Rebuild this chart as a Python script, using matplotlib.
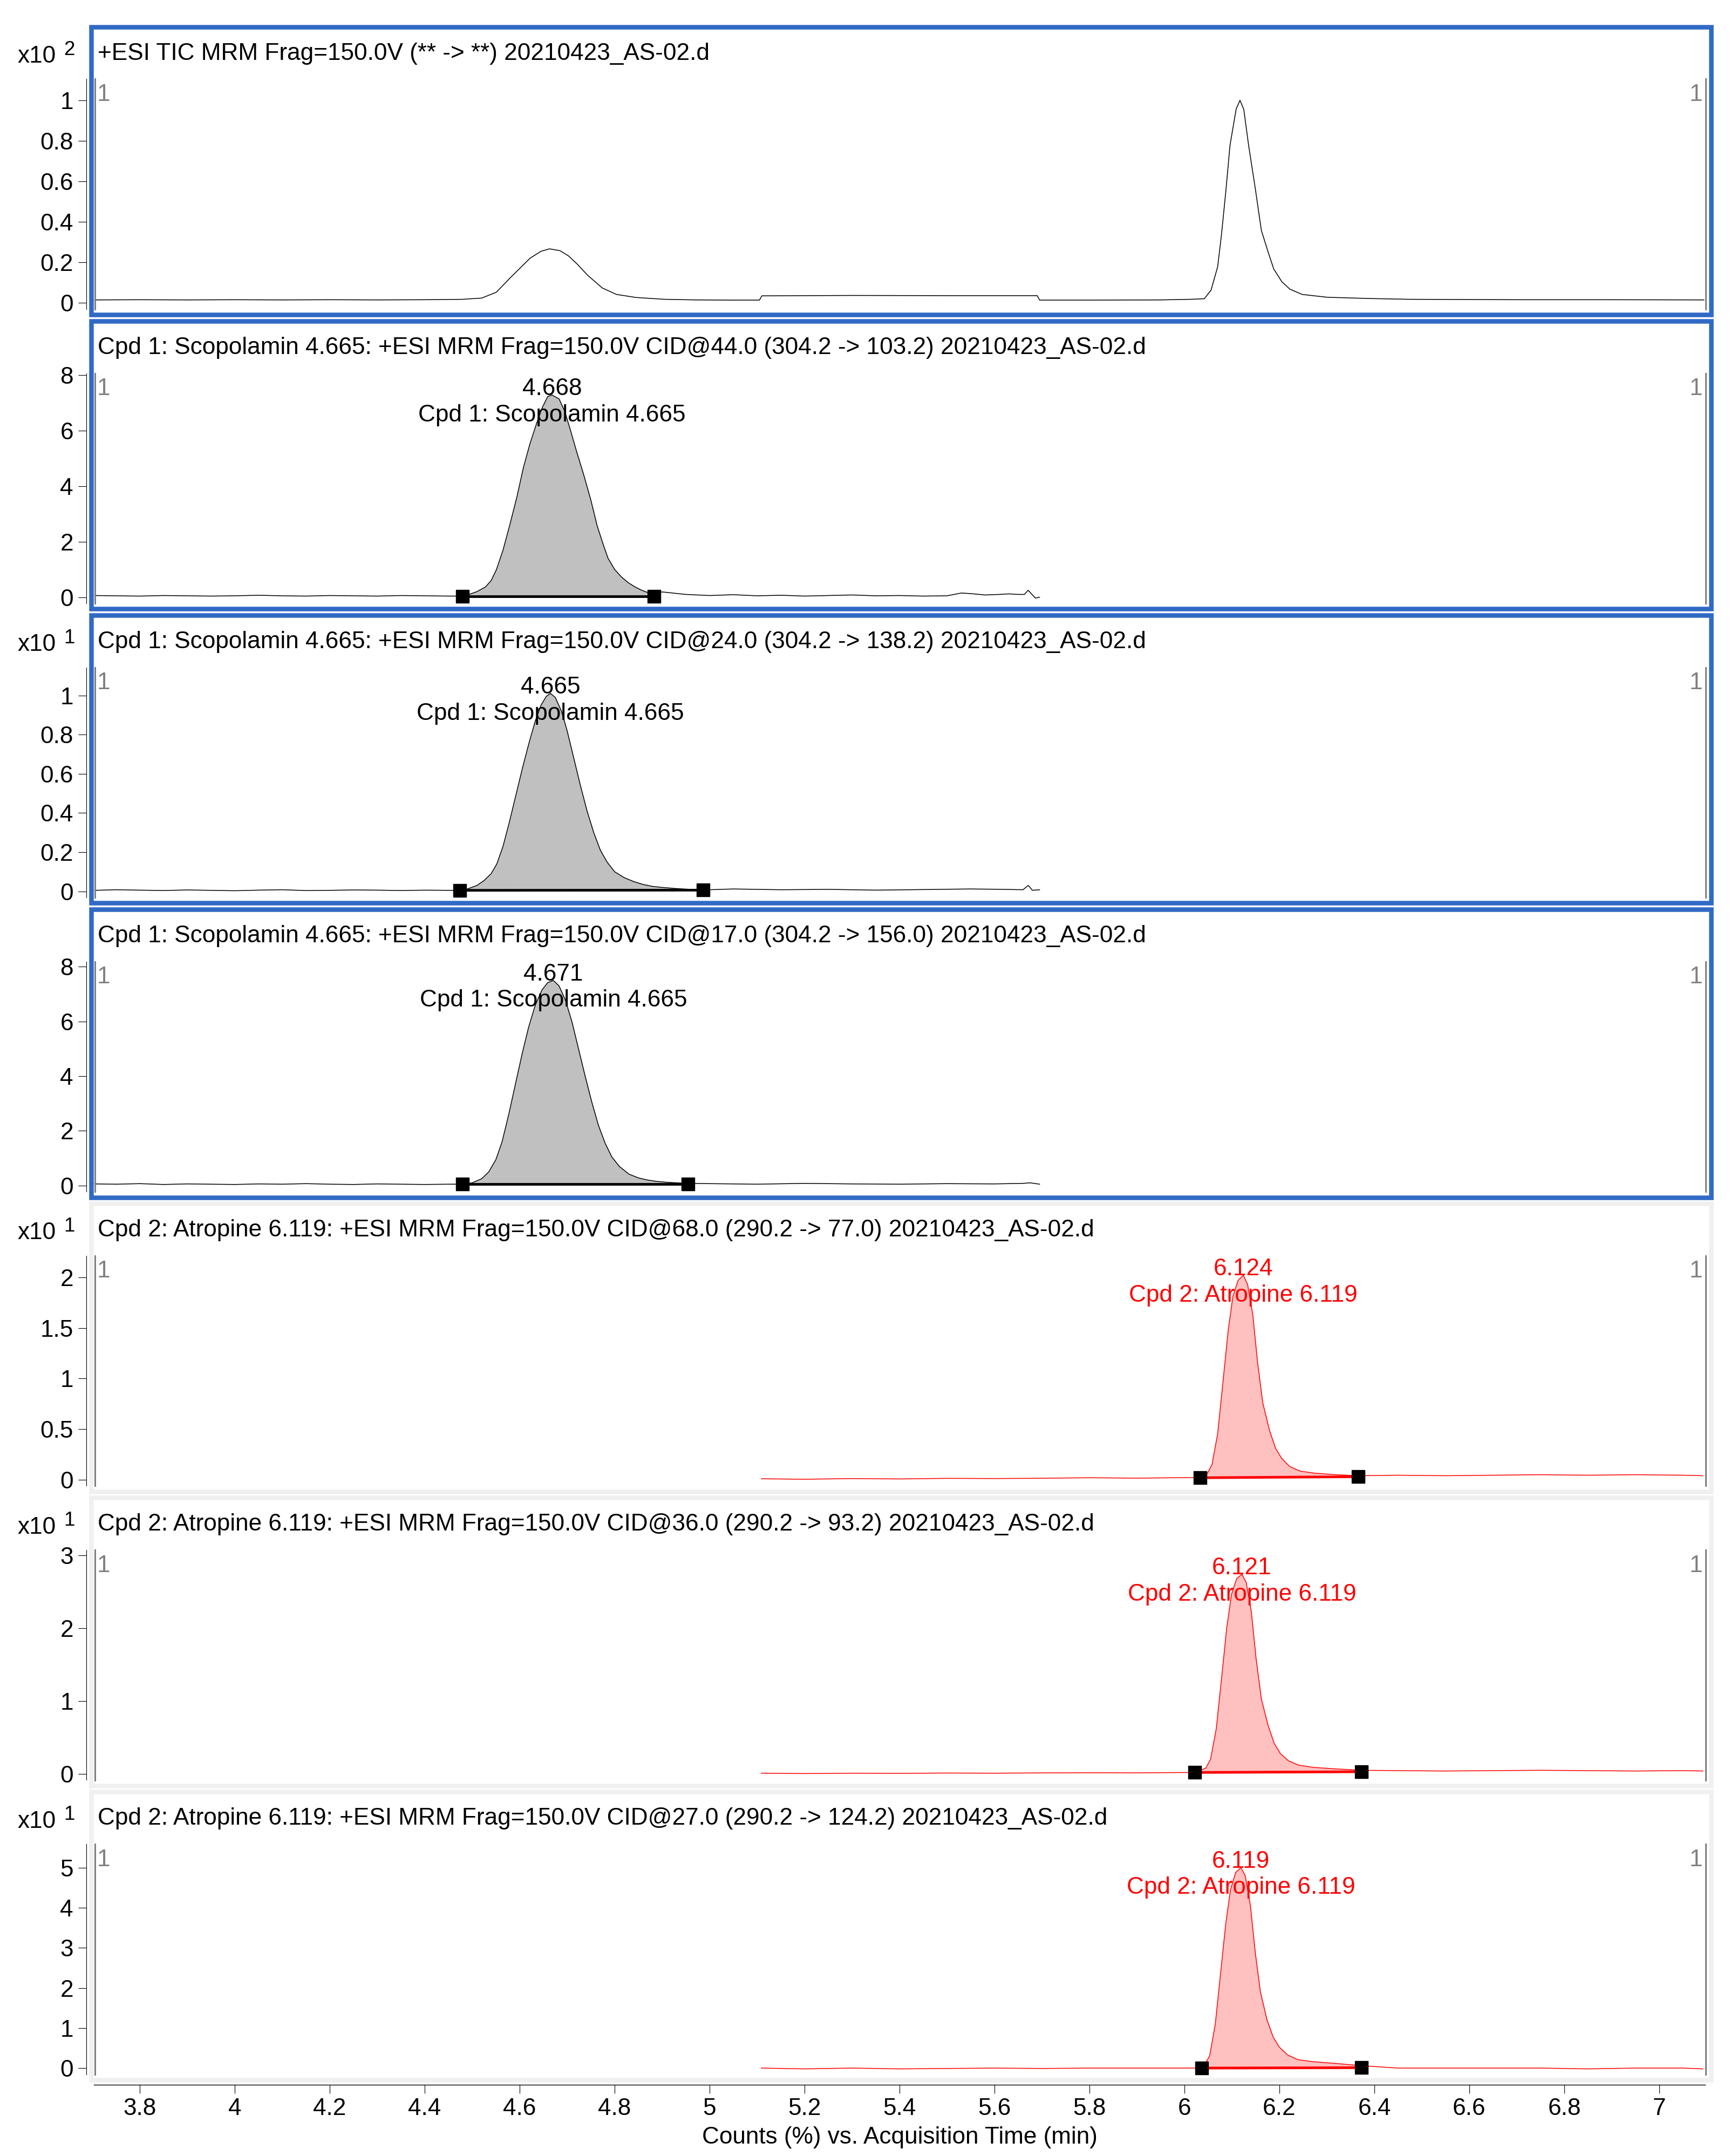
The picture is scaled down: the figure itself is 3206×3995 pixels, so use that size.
import numpy as np
import matplotlib.pyplot as plt
from matplotlib.patches import Rectangle
from matplotlib.lines import Line2D

plt.rcParams['font.family'] = ['Liberation Sans', 'DejaVu Sans']

# ---- data (time in min, counts in panel units) ----
tic_t = [3.705, 3.80, 3.90, 4.00, 4.10, 4.20, 4.30, 4.40, 4.45, 4.48, 4.52, 4.551, 4.581, 4.60,
         4.622, 4.645, 4.663, 4.685, 4.703, 4.722, 4.743, 4.774, 4.804, 4.845, 4.905, 4.97, 5.05,
         5.105, 5.11, 5.30, 5.50, 5.69, 5.695, 5.80, 5.95, 6.013, 6.042, 6.056, 6.070, 6.078,
         6.087, 6.096, 6.109, 6.117, 6.125, 6.135, 6.149, 6.162, 6.176, 6.188, 6.205, 6.222,
         6.248, 6.301, 6.388, 6.475, 6.70, 6.90, 7.094]
tic_v = [0.015, 0.016, 0.015, 0.016, 0.015, 0.016, 0.015, 0.016, 0.017, 0.018, 0.024, 0.053, 0.126,
         0.17, 0.221, 0.255, 0.267, 0.258, 0.232, 0.19, 0.137, 0.074, 0.042, 0.027, 0.018, 0.015,
         0.014, 0.014, 0.035, 0.037, 0.036, 0.036, 0.014, 0.014, 0.015, 0.018, 0.021, 0.063, 0.179,
         0.337, 0.547, 0.779, 0.958, 1.0, 0.955, 0.78, 0.568, 0.358, 0.253, 0.168, 0.105, 0.068,
         0.042, 0.028, 0.022, 0.018, 0.016, 0.016, 0.015]

s103_t = [3.705, 3.75, 3.80, 3.85, 3.90, 3.95, 4.00, 4.05, 4.10, 4.15, 4.20, 4.25, 4.30, 4.35, 4.40,
          4.45, 4.479, 4.490, 4.510, 4.528, 4.540, 4.551, 4.565, 4.579, 4.594, 4.608, 4.622, 4.636,
          4.648, 4.659, 4.668, 4.683, 4.695, 4.706, 4.720, 4.735, 4.750, 4.763, 4.775, 4.786, 4.800,
          4.815, 4.829, 4.843, 4.857, 4.871, 4.883, 4.90, 4.95, 5.00, 5.05, 5.10, 5.15, 5.20, 5.25,
          5.30, 5.35, 5.40, 5.45, 5.50, 5.53, 5.55, 5.58, 5.61, 5.63, 5.65, 5.663, 5.671, 5.680,
          5.686, 5.695]
s103_v = [0.06, 0.05, 0.04, 0.06, 0.05, 0.04, 0.05, 0.07, 0.05, 0.04, 0.06, 0.05, 0.04, 0.06, 0.05,
          0.04, 0.04, 0.08, 0.2, 0.37, 0.6, 0.99, 1.7, 2.59, 3.6, 4.68, 5.55, 6.28, 6.85, 7.23, 7.29,
          7.15, 6.7, 6.08, 5.25, 4.41, 3.5, 2.59, 1.95, 1.41, 1.0, 0.72, 0.52, 0.37, 0.25, 0.16, 0.1,
          0.19, 0.1, 0.06, 0.09, 0.05, 0.07, 0.04, 0.06, 0.08, 0.05, 0.06, 0.04, 0.05, 0.15, 0.13,
          0.08, 0.1, 0.12, 0.1, 0.1, 0.25, 0.08, -0.03, 0.0]

s138_t = [3.705, 3.75, 3.80, 3.85, 3.90, 3.95, 4.00, 4.05, 4.10, 4.15, 4.20, 4.25, 4.30, 4.35, 4.40,
          4.45, 4.474, 4.49, 4.51, 4.525, 4.54, 4.552, 4.565, 4.578, 4.592, 4.606, 4.62, 4.633,
          4.645, 4.656, 4.665, 4.675, 4.688, 4.70, 4.714, 4.728, 4.742, 4.756, 4.77, 4.784, 4.80,
          4.82, 4.84, 4.86, 4.88, 4.90, 4.93, 4.96, 4.986, 5.05, 5.15, 5.25, 5.35, 5.45, 5.55,
          5.62, 5.66, 5.671, 5.68, 5.695]
s138_v = [0.005, 0.008, 0.006, 0.004, 0.007, 0.005, 0.003, 0.006, 0.008, 0.004, 0.005, 0.007,
          0.006, 0.004, 0.006, 0.005, 0.005, 0.012, 0.03, 0.055, 0.09, 0.14, 0.23, 0.35, 0.49, 0.63,
          0.76, 0.87, 0.95, 0.995, 1.01, 0.99, 0.92, 0.82, 0.68, 0.54, 0.41, 0.3, 0.21, 0.15, 0.1,
          0.07, 0.05, 0.035, 0.025, 0.02, 0.014, 0.01, 0.007, 0.012, 0.008, 0.01, 0.006, 0.009,
          0.012, 0.01, 0.008, 0.03, 0.005, 0.008]

s156_t = [3.705, 3.75, 3.80, 3.85, 3.90, 3.95, 4.00, 4.05, 4.10, 4.15, 4.20, 4.25, 4.30, 4.35, 4.40,
          4.45, 4.48, 4.50, 4.52, 4.535, 4.55, 4.563, 4.577, 4.591, 4.605, 4.619, 4.633, 4.647,
          4.659, 4.671, 4.683, 4.696, 4.71, 4.724, 4.738, 4.752, 4.766, 4.78, 4.794, 4.81, 4.83,
          4.85, 4.87, 4.89, 4.91, 4.93, 4.954, 5.00, 5.10, 5.20, 5.30, 5.40, 5.50, 5.60, 5.66,
          5.675, 5.695]
s156_v = [0.06, 0.05, 0.07, 0.04, 0.06, 0.05, 0.04, 0.06, 0.05, 0.07, 0.05, 0.04, 0.06, 0.05,
          0.04, 0.05, 0.05, 0.1, 0.25, 0.5, 0.95, 1.6, 2.6, 3.7, 4.8, 5.8, 6.6, 7.15, 7.42, 7.5,
          7.3, 6.8, 6.0, 5.0, 4.0, 3.05, 2.2, 1.55, 1.05, 0.7, 0.42, 0.28, 0.2, 0.15, 0.12, 0.1,
          0.08, 0.07, 0.05, 0.08, 0.06, 0.05, 0.07, 0.06, 0.08, 0.1, 0.05]

a77_t = [5.109, 5.20, 5.30, 5.40, 5.50, 5.60, 5.70, 5.80, 5.90, 5.98, 6.033, 6.048, 6.058, 6.070,
         6.081, 6.092, 6.102, 6.113, 6.124, 6.133, 6.144, 6.154, 6.165, 6.179, 6.192, 6.205,
         6.222, 6.244, 6.275, 6.319, 6.366, 6.45, 6.55, 6.65, 6.75, 6.85, 6.95, 7.05, 7.092]
a77_v = [0.01, 0.005, 0.012, 0.008, 0.014, 0.012, 0.015, 0.02, 0.016, 0.02, 0.022, 0.06, 0.15,
         0.455, 0.96, 1.47, 1.81, 1.97, 2.02, 1.93, 1.63, 1.16, 0.76, 0.49, 0.31, 0.21, 0.13,
         0.085, 0.065, 0.05, 0.04, 0.045, 0.04, 0.045, 0.05, 0.045, 0.05, 0.045, 0.04]

a93_t = [5.109, 5.20, 5.30, 5.40, 5.50, 5.60, 5.70, 5.80, 5.90, 5.97, 6.022, 6.045, 6.055, 6.067,
         6.078, 6.089, 6.099, 6.110, 6.121, 6.130, 6.141, 6.151, 6.162, 6.176, 6.189, 6.202,
         6.219, 6.241, 6.272, 6.316, 6.373, 6.45, 6.55, 6.65, 6.75, 6.85, 6.95, 7.05, 7.092]
a93_v = [0.01, 0.005, 0.01, 0.008, 0.012, 0.01, 0.014, 0.016, 0.015, 0.018, 0.02, 0.08, 0.2,
         0.62, 1.3, 2.0, 2.46, 2.68, 2.74, 2.63, 2.22, 1.58, 1.03, 0.67, 0.42, 0.28, 0.18, 0.12,
         0.09, 0.07, 0.05, 0.045, 0.04, 0.045, 0.05, 0.045, 0.04, 0.045, 0.04]

a124_t = [5.109, 5.20, 5.30, 5.40, 5.50, 5.60, 5.70, 5.80, 5.90, 5.98, 6.036, 6.043, 6.053,
          6.065, 6.076, 6.087, 6.097, 6.108, 6.119, 6.128, 6.139, 6.149, 6.160, 6.174, 6.187,
          6.200, 6.217, 6.239, 6.270, 6.314, 6.373, 6.45, 6.55, 6.65, 6.75, 6.85, 6.95, 7.05, 7.092]
a124_v = [0.0, -0.02, 0.0, -0.02, -0.01, 0.0, -0.01, 0.0, 0.0, 0.0, 0.0, 0.1, 0.3, 1.1, 2.35,
          3.6, 4.45, 4.88, 5.0, 4.8, 4.05, 2.9, 1.9, 1.2, 0.77, 0.52, 0.33, 0.21, 0.16, 0.12,
          0.06, 0.0, 0.0, 0.0, 0.0, -0.02, 0.0, 0.0, -0.02]

titles = ["+ESI TIC MRM Frag=150.0V (** -> **) 20210423_AS-02.d",
          "Cpd 1: Scopolamin 4.665: +ESI MRM Frag=150.0V CID@44.0 (304.2 -> 103.2) 20210423_AS-02.d",
          "Cpd 1: Scopolamin 4.665: +ESI MRM Frag=150.0V CID@24.0 (304.2 -> 138.2) 20210423_AS-02.d",
          "Cpd 1: Scopolamin 4.665: +ESI MRM Frag=150.0V CID@17.0 (304.2 -> 156.0) 20210423_AS-02.d",
          "Cpd 2: Atropine 6.119: +ESI MRM Frag=150.0V CID@68.0 (290.2 -> 77.0) 20210423_AS-02.d",
          "Cpd 2: Atropine 6.119: +ESI MRM Frag=150.0V CID@36.0 (290.2 -> 93.2) 20210423_AS-02.d",
          "Cpd 2: Atropine 6.119: +ESI MRM Frag=150.0V CID@27.0 (290.2 -> 124.2) 20210423_AS-02.d"]
exponents = ["2", None, "1", None, "1", "1", "1"]
yticks = [[0, 0.2, 0.4, 0.6, 0.8, 1], [0, 2, 4, 6, 8], [0, 0.2, 0.4, 0.6, 0.8, 1], [0, 2, 4, 6, 8],
          [0, 0.5, 1, 1.5, 2], [0, 1, 2, 3], [0, 1, 2, 3, 4, 5]]
ytick_labels = [["0", "0.2", "0.4", "0.6", "0.8", "1"], ["0", "2", "4", "6", "8"],
                ["0", "0.2", "0.4", "0.6", "0.8", "1"], ["0", "2", "4", "6", "8"],
                ["0", "0.5", "1", "1.5", "2"], ["0", "1", "2", "3"], ["0", "1", "2", "3", "4", "5"]]
ylims = [(-0.031, 1.105), (-0.224, 8.074), (-0.032, 1.143), (-0.227, 8.19),
         (-0.061, 2.213), (-0.085, 3.074), (-0.155, 5.586)]
traces = [(tic_t, tic_v), (s103_t, s103_v), (s138_t, s138_v), (s156_t, s156_v),
          (a77_t, a77_v), (a93_t, a93_v), (a124_t, a124_v)]
# integrated peaks: (rt label, compound label, baseline start/end times, baseline values)
peaks = [None,
         (4.668, "Cpd 1: Scopolamin 4.665", [4.479, 4.883], [0.04, 0.04]),
         (4.665, "Cpd 1: Scopolamin 4.665", [4.474, 4.986], [0.005, 0.006]),
         (4.671, "Cpd 1: Scopolamin 4.665", [4.48, 4.954], [0.05, 0.05]),
         (6.124, "Cpd 2: Atropine 6.119", [6.033, 6.366], [0.02, 0.03]),
         (6.121, "Cpd 2: Atropine 6.119", [6.022, 6.373], [0.02, 0.03]),
         (6.119, "Cpd 2: Atropine 6.119", [6.036, 6.373], [0.0, 0.01])]
xticks = [3.8, 4, 4.2, 4.4, 4.6, 4.8, 5, 5.2, 5.4, 5.6, 5.8, 6, 6.2, 6.4, 6.6, 6.8, 7]
xlim = (3.7034, 7.0972)

# ---- layout (pixels) ----
W, H = 3206, 3995
PT = 72 / 100
FS = 31.8
BLUE = '#316AC5'
LGRAY = '#F0F0F0'

fig = plt.figure(figsize=(W / 100, H / 100), dpi=100)


def fx(px):
    return px / W


def fy(py):
    return 1 - py / H


for i in range(7):
    ft = 45.5 + 545.1 * i
    selected = i < 4
    line_c = 'black' if i < 4 else '#FF0000'
    fill_c = '#C0C0C0' if i < 4 else '#FFC0C0'

    # panel frame
    fig.add_artist(Rectangle((fx(169.25), fy(ft + 537.75)), (3175 - 165 - 8.5) / W, (542 - 8.5) / H,
                             transform=fig.transFigure, fill=False,
                             ec=BLUE if selected else LGRAY, lw=8.5 * PT))
    # grey inner edge lines
    for xpx in (175.5, 3160.5):
        fig.add_artist(Line2D([fx(xpx), fx(xpx)], [fy(ft + 101), fy(ft + 527.5)],
                              transform=fig.transFigure, color='#808080', lw=3 * PT))

    ax = fig.add_axes([fx(174), fy(ft + 527.5), (3160.5 - 174) / W, 426.5 / H])
    ax.patch.set_alpha(0)
    ax.set_xlim(*xlim)
    ax.set_ylim(*ylims[i])
    for s in ('top', 'right'):
        ax.spines[s].set_visible(False)
    ax.spines['left'].set_position(('outward', 14 * PT))
    ax.spines['left'].set_linewidth(0.8)
    ax.set_yticks(yticks[i])
    ax.set_yticklabels(ytick_labels[i])
    ax.tick_params(axis='y', direction='out', length=15 * PT, width=0.8, pad=9 * PT, labelsize=FS)

    if i == 6:
        ax.spines['bottom'].set_position(('outward', 19.5 * PT))
        ax.spines['bottom'].set_linewidth(1.0)
        ax.set_xticks(xticks)
        ax.set_xticklabels([f"{v:g}" for v in xticks])
        ax.tick_params(axis='x', direction='out', length=16 * PT, width=0.8, pad=8 * PT, labelsize=FS)
    else:
        ax.spines['bottom'].set_visible(False)
        ax.set_xticks([])

    t = np.array(traces[i][0])
    v = np.array(traces[i][1])
    if peaks[i] is not None:
        rt, label, bt, bv = peaks[i]
        m = (t >= bt[0]) & (t <= bt[1])
        ax.fill_between(t[m], np.interp(t[m], bt, bv), v[m], color=fill_c, lw=0)
    ax.plot(t, v, color=line_c, lw=1.1)
    if peaks[i] is not None:
        ax.plot(bt, bv, color=line_c, lw=3.5, solid_capstyle='butt')
        ax.plot(bt, bv, 's', color='black', ms=17, clip_on=False)
        apex = np.interp(rt, t, v)
        ax.annotate(f"{rt:.3f}", xy=(rt, apex), xytext=(0, 0), textcoords='offset points',
                    ha='center', va='baseline', fontsize=FS, color=line_c)
        ax.annotate(label, xy=(rt, apex), xytext=(0, -35), textcoords='offset points',
                    ha='center', va='baseline', fontsize=FS, color=line_c)

    # titles, exponent labels and the grey "1" markers
    fig.text(fx(181), fy(ft + 65), titles[i], fontsize=FS, va='baseline', ha='left')
    if exponents[i] is not None:
        fig.text(fx(104), fy(ft + 70.5), "x10", fontsize=FS, va='baseline', ha='right')
        fig.text(fx(118), fy(ft + 56), exponents[i], fontsize=26.5, va='baseline', ha='left')
    fig.text(fx(180), fy(ft + 141.5), "1", fontsize=FS, color='#808080', va='baseline', ha='left')
    fig.text(fx(3155), fy(ft + 141.5), "1", fontsize=FS, color='#808080', va='baseline', ha='right')

fig.text(fx(1667), fy(3960), "Counts (%) vs. Acquisition Time (min)", fontsize=FS,
         ha='center', va='center')

fig.savefig('out.png', dpi=100)
